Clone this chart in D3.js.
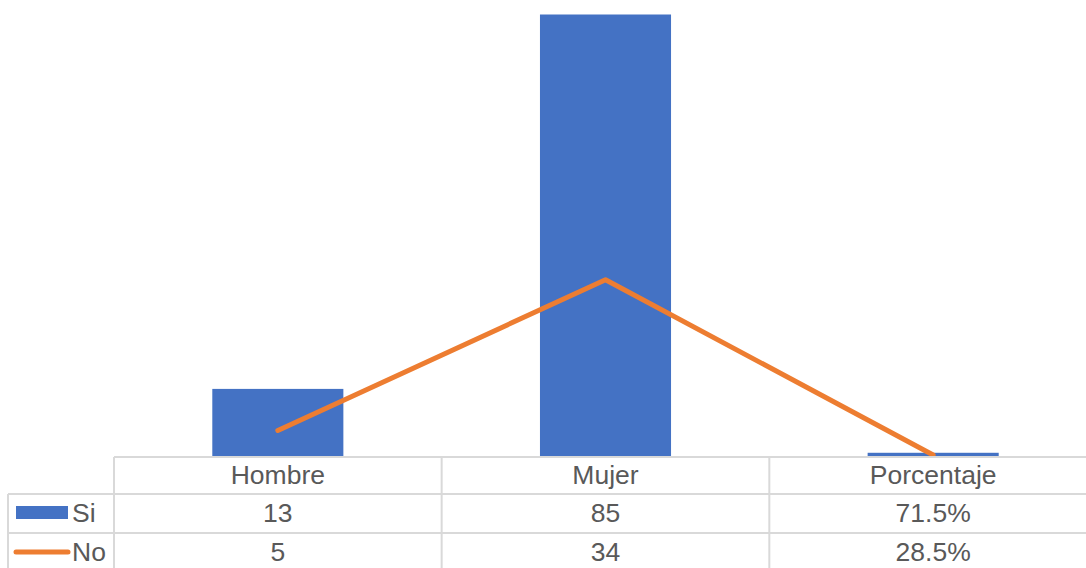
<!DOCTYPE html>
<html><head><meta charset="utf-8">
<script src="https://cdn.jsdelivr.net/npm/d3@7"></script>
<style>body{margin:0;background:#fff}svg{display:block}text{font-family:"Liberation Sans",Arial,sans-serif;fill:#595959}</style>
</head><body>
<svg id="c" width="1086" height="568"></svg>
<script>
const categories = ["Hombre", "Mujer", "Porcentaje"];
const siValues = [13, 85, 0.715];
const noValues = [5, 34, 0.285];
const siLabels = ["13", "85", "71.5%"];
const noLabels = ["5", "34", "28.5%"];
const seriesNames = ["Si", "No"];

const svg = d3.select("#c");
const x = d3.scaleBand().domain(categories).range([114, 1097]).padding(0);
const y = d3.scaleLinear().domain([0, 85]).range([456.5, 14.5]);
const barW = x.bandwidth() * 0.4;
const grid = "#d9d9d9";

// bars
svg.selectAll("rect.bar").data(categories).enter().append("rect")
  .attr("class", "bar")
  .attr("x", d => x(d) + (x.bandwidth() - barW) / 2)
  .attr("width", barW)
  .attr("y", (d, i) => y(siValues[i]))
  .attr("height", (d, i) => y(0) - y(siValues[i]))
  .attr("fill", "#4472C4");

// line
const line = d3.line().x((d, i) => x(categories[i]) + x.bandwidth() / 2).y(d => y(d));
svg.append("path").datum(noValues).attr("d", line)
  .attr("fill", "none").attr("stroke", "#ED7D31").attr("stroke-width", 5)
  .attr("stroke-linecap", "round").attr("stroke-linejoin", "round");

// table grid
const g = svg.append("g").attr("stroke", grid).attr("stroke-width", 2);
const rowTop = 457, rowH1 = 494, rowH2 = 533;
g.append("line").attr("x1", 114).attr("x2", 1086).attr("y1", rowTop).attr("y2", rowTop);
g.append("line").attr("x1", 8).attr("x2", 1086).attr("y1", rowH1).attr("y2", rowH1);
g.append("line").attr("x1", 8).attr("x2", 1086).attr("y1", rowH2).attr("y2", rowH2);
g.append("line").attr("x1", 8).attr("x2", 8).attr("y1", rowH1).attr("y2", 568);
categories.forEach(c => {
  g.append("line").attr("x1", x(c)).attr("x2", x(c)).attr("y1", rowTop).attr("y2", 568);
});

const fs = 26.5;
// header
svg.selectAll("text.cat").data(categories).enter().append("text")
  .attr("x", d => x(d) + x.bandwidth() / 2).attr("y", 484)
  .attr("text-anchor", "middle").attr("font-size", fs).text(d => d);
svg.selectAll("text.si").data(siLabels).enter().append("text")
  .attr("x", (d, i) => x(categories[i]) + x.bandwidth() / 2).attr("y", 522)
  .attr("text-anchor", "middle").attr("font-size", fs).text(d => d);
svg.selectAll("text.no").data(noLabels).enter().append("text")
  .attr("x", (d, i) => x(categories[i]) + x.bandwidth() / 2).attr("y", 561)
  .attr("text-anchor", "middle").attr("font-size", fs).text(d => d);

// legend keys
svg.append("rect").attr("x", 16).attr("y", 506).attr("width", 52).attr("height", 13).attr("fill", "#4472C4");
svg.append("line").attr("x1", 16).attr("x2", 68).attr("y1", 552).attr("y2", 552)
  .attr("stroke", "#ED7D31").attr("stroke-width", 5).attr("stroke-linecap", "round");
svg.append("text").attr("x", 72).attr("y", 522).attr("font-size", fs).text(seriesNames[0]);
svg.append("text").attr("x", 72).attr("y", 561).attr("font-size", fs).text(seriesNames[1]);
</script>
</body></html>
